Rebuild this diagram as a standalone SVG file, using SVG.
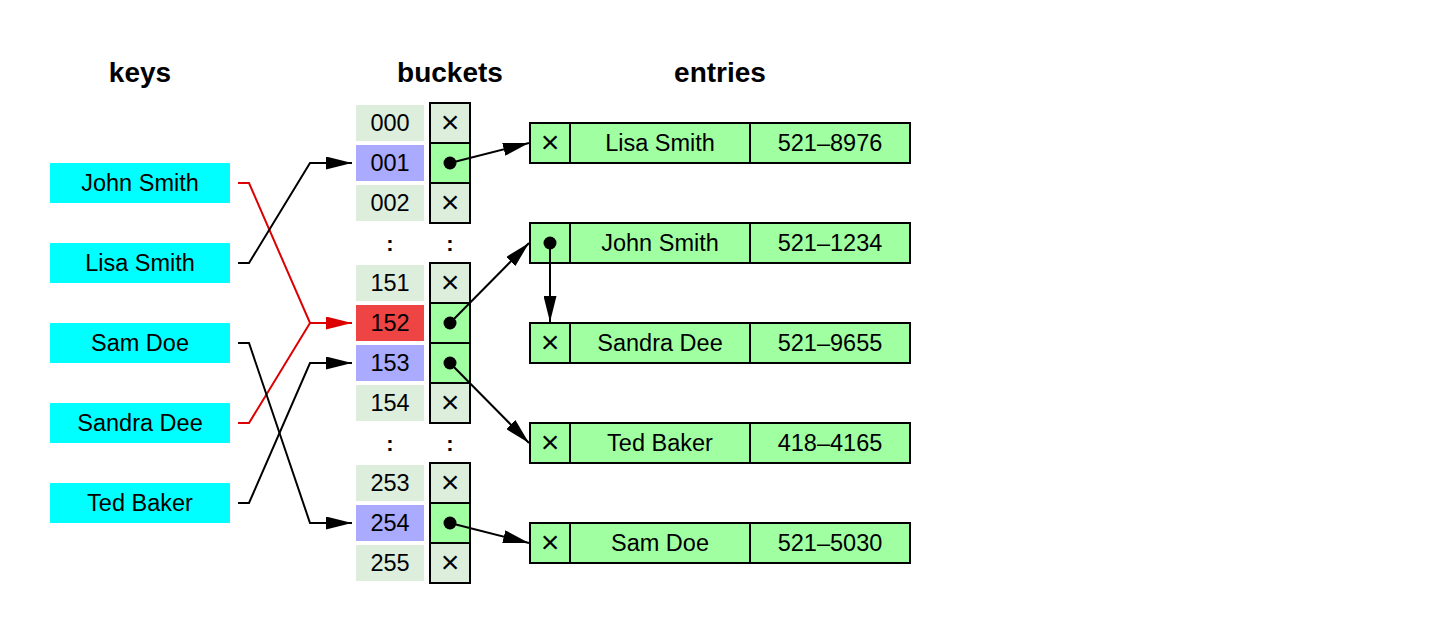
<svg xmlns="http://www.w3.org/2000/svg" width="1452" height="634" viewBox="0 0 1452 634">
<style>
text{font-family:"Liberation Sans",Arial,sans-serif;font-size:23.5px;fill:#000;text-anchor:middle}
.h{font-size:28px;font-weight:bold}
.key{fill:#00ffff}
.bk{fill:#ddeedd}
.blue{fill:#aaaaff}
.red{fill:#ee4444}
.pc{stroke:#000;stroke-width:2}
.pl{fill:#ddeedd}
.pg{fill:#a0ffa0}
.ent{fill:#a0ffa0;stroke:#000;stroke-width:2}
.ln{fill:none;stroke:#000;stroke-width:2}
.lr{fill:none;stroke:#dd0000;stroke-width:2}
.x{font-size:32px}
.c{font-size:22px;font-weight:bold}
</style>
<defs>
<marker id="ab" markerUnits="userSpaceOnUse" markerWidth="26" markerHeight="13" refX="26" refY="6.5" orient="auto"><path d="M0,0 L26,6.5 L0,13 z" fill="#000"/></marker>
<marker id="ar" markerUnits="userSpaceOnUse" markerWidth="26" markerHeight="13" refX="26" refY="6.5" orient="auto"><path d="M0,0 L26,6.5 L0,13 z" fill="#dd0000"/></marker>
</defs>
<rect width="1452" height="634" fill="#fff"/>
<g id="headers">
<text class="h" x="140" y="82">keys</text>
<text class="h" x="450" y="82">buckets</text>
<text class="h" x="720" y="82">entries</text>
</g>
<g id="keys">
<g id="key-john"><rect class="key" x="50" y="163" width="180" height="40"/><text x="140" y="191">John Smith</text></g>
<g id="key-lisa"><rect class="key" x="50" y="243" width="180" height="40"/><text x="140" y="271">Lisa Smith</text></g>
<g id="key-sam"><rect class="key" x="50" y="323" width="180" height="40"/><text x="140" y="351">Sam Doe</text></g>
<g id="key-sandra"><rect class="key" x="50" y="403" width="180" height="40"/><text x="140" y="431">Sandra Dee</text></g>
<g id="key-ted"><rect class="key" x="50" y="483" width="180" height="40"/><text x="140" y="511">Ted Baker</text></g>
</g>
<g id="buckets">
<g id="b000"><rect class="bk" x="356" y="105" width="68" height="36"/><text x="390" y="131">000</text></g>
<g id="b001"><rect class="blue" x="356" y="145" width="68" height="36"/><text x="390" y="171">001</text></g>
<g id="b002"><rect class="bk" x="356" y="185" width="68" height="36"/><text x="390" y="211">002</text></g>
<text class="c" x="390" y="250.5">:</text><text class="c" x="450" y="250.5">:</text>
<g id="b151"><rect class="bk" x="356" y="265" width="68" height="36"/><text x="390" y="291">151</text></g>
<g id="b152"><rect class="red" x="356" y="305" width="68" height="36"/><text x="390" y="331">152</text></g>
<g id="b153"><rect class="blue" x="356" y="345" width="68" height="36"/><text x="390" y="371">153</text></g>
<g id="b154"><rect class="bk" x="356" y="385" width="68" height="36"/><text x="390" y="411">154</text></g>
<text class="c" x="390" y="450.5">:</text><text class="c" x="450" y="450.5">:</text>
<g id="b253"><rect class="bk" x="356" y="465" width="68" height="36"/><text x="390" y="491">253</text></g>
<g id="b254"><rect class="blue" x="356" y="505" width="68" height="36"/><text x="390" y="531">254</text></g>
<g id="b255"><rect class="bk" x="356" y="545" width="68" height="36"/><text x="390" y="571">255</text></g>
</g>
<g id="pointers">
<rect class="pc pl" x="430" y="103" width="40" height="40"/><text class="x" x="450" y="132.5">×</text>
<rect class="pc pg" x="430" y="143" width="40" height="40"/><circle cx="450" cy="163" r="6.5"/>
<rect class="pc pl" x="430" y="183" width="40" height="40"/><text class="x" x="450" y="212.5">×</text>
<rect class="pc pl" x="430" y="263" width="40" height="40"/><text class="x" x="450" y="292.5">×</text>
<rect class="pc pg" x="430" y="303" width="40" height="40"/><circle cx="450" cy="323" r="6.5"/>
<rect class="pc pg" x="430" y="343" width="40" height="40"/><circle cx="450" cy="363" r="6.5"/>
<rect class="pc pl" x="430" y="383" width="40" height="40"/><text class="x" x="450" y="412.5">×</text>
<rect class="pc pl" x="430" y="463" width="40" height="40"/><text class="x" x="450" y="492.5">×</text>
<rect class="pc pg" x="430" y="503" width="40" height="40"/><circle cx="450" cy="523" r="6.5"/>
<rect class="pc pl" x="430" y="543" width="40" height="40"/><text class="x" x="450" y="572.5">×</text>
</g>
<g id="entries">
<g id="e-lisa"><rect class="ent" x="530" y="123" width="40" height="40"/><rect class="ent" x="570" y="123" width="180" height="40"/><rect class="ent" x="750" y="123" width="160" height="40"/><text class="x" x="550" y="152.5">×</text><text x="660" y="151">Lisa Smith</text><text x="830" y="151">521–8976</text></g>
<g id="e-john"><rect class="ent" x="530" y="223" width="40" height="40"/><rect class="ent" x="570" y="223" width="180" height="40"/><rect class="ent" x="750" y="223" width="160" height="40"/><circle cx="550" cy="243" r="6.5"/><text x="660" y="251">John Smith</text><text x="830" y="251">521–1234</text></g>
<g id="e-sandra"><rect class="ent" x="530" y="323" width="40" height="40"/><rect class="ent" x="570" y="323" width="180" height="40"/><rect class="ent" x="750" y="323" width="160" height="40"/><text class="x" x="550" y="352.5">×</text><text x="660" y="351">Sandra Dee</text><text x="830" y="351">521–9655</text></g>
<g id="e-ted"><rect class="ent" x="530" y="423" width="40" height="40"/><rect class="ent" x="570" y="423" width="180" height="40"/><rect class="ent" x="750" y="423" width="160" height="40"/><text class="x" x="550" y="452.5">×</text><text x="660" y="451">Ted Baker</text><text x="830" y="451">418–4165</text></g>
<g id="e-sam"><rect class="ent" x="530" y="523" width="40" height="40"/><rect class="ent" x="570" y="523" width="180" height="40"/><rect class="ent" x="750" y="523" width="160" height="40"/><text class="x" x="550" y="552.5">×</text><text x="660" y="551">Sam Doe</text><text x="830" y="551">521–5030</text></g>
</g>
<g id="connectors">
<path class="lr" d="M238,183 L249,183 L310,323 L352,323" marker-end="url(#ar)"/>
<path class="lr" d="M238,423 L249,423 L310,323"/>
<path class="ln" d="M238,263 L249,263 L310,163 L352,163" marker-end="url(#ab)"/>
<path class="ln" d="M238,343 L249,343 L310,523 L352,523" marker-end="url(#ab)"/>
<path class="ln" d="M238,503 L249,503 L310,363 L352,363" marker-end="url(#ab)"/>
<line class="ln" x1="450" y1="163" x2="529" y2="143" marker-end="url(#ab)"/>
<line class="ln" x1="450" y1="323" x2="529" y2="243" marker-end="url(#ab)"/>
<line class="ln" x1="550" y1="243" x2="550" y2="322" marker-end="url(#ab)"/>
<line class="ln" x1="450" y1="363" x2="529" y2="443" marker-end="url(#ab)"/>
<line class="ln" x1="450" y1="523" x2="529" y2="543" marker-end="url(#ab)"/>
</g>
</svg>
